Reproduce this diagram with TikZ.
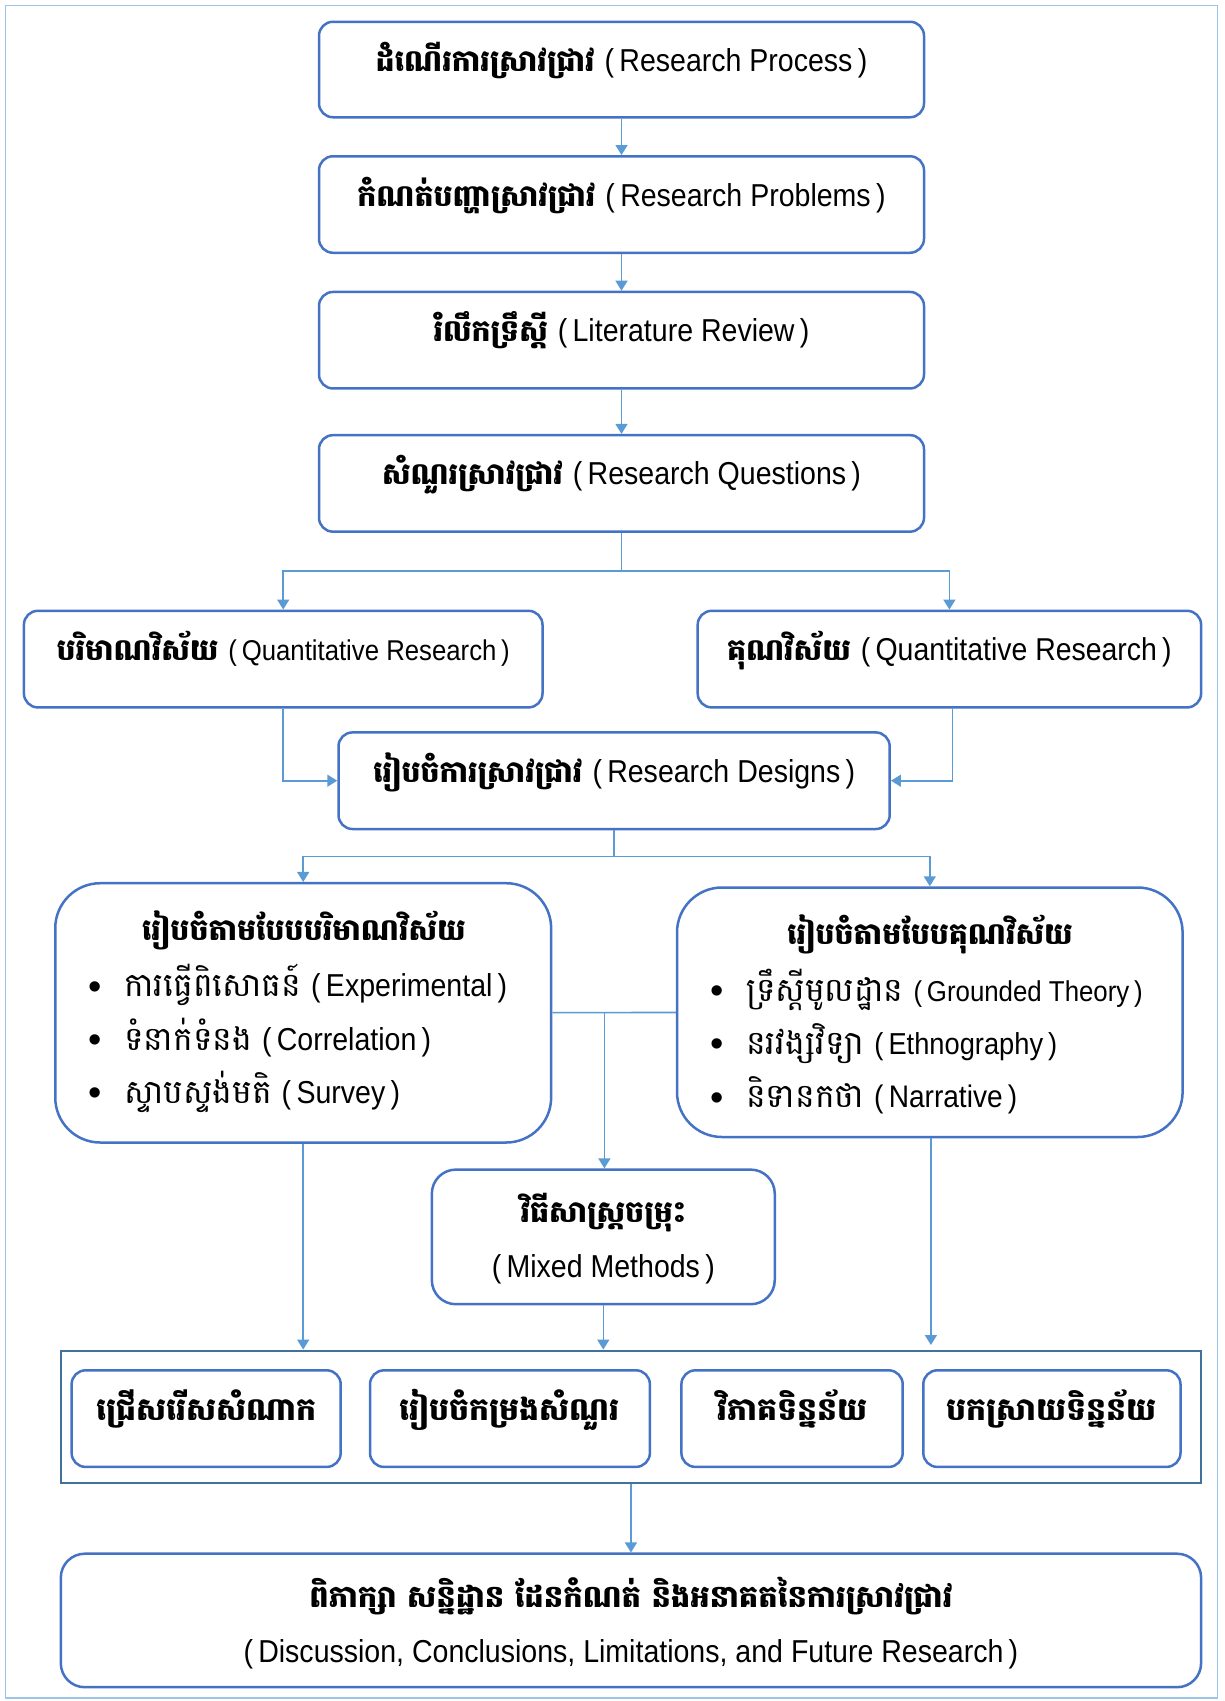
\documentclass[tikz,border=0pt]{standalone}
\usepackage{fontspec}
\setmainfont{Liberation Sans}
\newfontfamily\latc[FakeStretch=0.9]{Liberation Sans}
\newfontfamily\kh[Script=Khmer]{Battambang}
\usetikzlibrary{arrows.meta,calc}
\definecolor{boxblue}{HTML}{4472C4}
\definecolor{linkblue}{HTML}{5B9BD5}
\definecolor{frameblue}{HTML}{9DC3E6}
\definecolor{ctblue}{HTML}{41719C}
\newcommand{\khb}[2]{{\kh\bfseries\fontsize{#1}{#1}\selectfont #2}}
\newcommand{\khr}[2]{{\kh\fontsize{#1}{#1}\selectfont #2}}
\newcommand{\lat}[2]{{\latc\fontsize{#1}{#1}\selectfont(\,#2\,)}}
\newcommand{\bul}{\makebox[36pt][l]{\raisebox{-2.5pt}{\fontsize{38}{38}\selectfont •}}}
\begin{document}
\begin{tikzpicture}[x=1pt,y=-1pt,
  box/.style={draw=boxblue, line width=2.5pt, rounded corners=14pt, fill=white, inner sep=0pt,
              text height=25pt, text depth=22pt},
  bigbox/.style={draw=boxblue, line width=2.5pt, rounded corners=45pt, fill=white, inner sep=0pt},
  midbox/.style={draw=boxblue, line width=2.5pt, rounded corners=24pt, fill=white, inner sep=0pt},
  container/.style={draw=ctblue, line width=2.5pt, inner sep=0pt},
  txt/.style={inner sep=0pt, font=\fontsize{28.5}{30}\selectfont},
  link/.style={draw=linkblue, line width=1.6pt},
  conn/.style={link, -{Triangle[width=12pt,length=10pt]}}
]
\useasboundingbox (0,0) rectangle (1225,1701);
\draw[frameblue, line width=1.5pt] (5.4,5.4) rectangle (1217.4,1698);

% top chain
\node[box, minimum width=605pt, minimum height=95.5pt] (b1) at (621.5,69.5)
  {\khb{30}{ដំណើរការស្រាវជ្រាវ}\hspace{10pt}\lat{31.7}{Research Process}};
\node[box, minimum width=605pt, minimum height=96.5pt] (b2) at (621.5,204.5)
  {\khb{30}{កំណត់បញ្ហាស្រាវជ្រាវ}\hspace{10pt}\lat{31.7}{Research Problems}};
\node[box, minimum width=605pt, minimum height=96.5pt] (b3) at (621.5,340.2)
  {\khb{30}{រំលឹកទ្រឹស្ដី}\hspace{10pt}\lat{31.7}{Literature Review}};
\node[box, minimum width=605pt, minimum height=96.5pt] (b4) at (621.5,483.4)
  {\khb{30}{សំណួរស្រាវជ្រាវ}\hspace{10pt}\lat{31.7}{Research Questions}};

\draw[conn] (b1) -- (b2);
\draw[conn] (b2) -- (b3);
\draw[conn] (b3) -- (b4);

% quantitative / qualitative
\node[box, minimum width=518.6pt, minimum height=96.6pt] (b5) at (283.2,659.1)
  {\khb{30}{បរិមាណវិស័យ}\hspace{10pt}\lat{28.6}{Quantitative Research}};
\node[box, minimum width=503.4pt, minimum height=96.6pt] (b6) at (949.4,659.1)
  {\khb{30}{គុណវិស័យ}\hspace{10pt}\lat{31.6}{Quantitative Research}};

\coordinate (j1) at (621.5,570.7);
\draw[link] (b4) -- (j1);
\draw[conn] (j1) -| (b5);
\draw[conn] (j1) -| (b6);

% research designs
\node[box, minimum width=551.2pt, minimum height=96.6pt] (b7) at (614.1,780.7)
  {\khb{30}{រៀបចំការស្រាវជ្រាវ}\hspace{10pt}\lat{31.7}{Research Designs}};
\draw[conn] (b5) |- (b7);
\draw[conn] (b6.south -| 952.6,0) |- (b7);

% design types
\node[bigbox, minimum width=495.9pt, minimum height=259.3pt] (b8) at (303.2,1012.85) {};
\node[bigbox, minimum width=505.6pt, minimum height=249.5pt] (b9) at (929.8,1012.25) {};

\coordinate (j2) at (614.1,856.5);
\draw[link] (b7) -- (j2);
\draw[conn] (j2) -| (b8);
\draw[conn] (j2) -| (b9);

\node[txt, anchor=mid] (b8t) at (303.8,938) {\khb{30}{រៀបចំតាមបែបបរិមាណវិស័យ}};
\node[txt, anchor=mid west] (b8a) at (88,994.3) {\bul\khr{33}{ការធ្វើពិសោធន៍}\hspace{10pt}\lat{31.7}{Experimental}};
\node[txt, anchor=mid west] (b8b) at (88,1047.4) {\bul\khr{33}{ទំនាក់ទំនង}\hspace{10pt}\lat{31.7}{Correlation}};
\node[txt, anchor=mid west] (b8c) at (88,1100.6) {\bul\khr{33}{ស្ទាបស្ទង់មតិ}\hspace{10pt}\lat{31.7}{Survey}};

\node[txt, anchor=mid] (b9t) at (929.9,942.2) {\khb{30}{រៀបចំតាមបែបគុណវិស័យ}};
\node[txt, anchor=mid west] (b9a) at (710,998.6) {\bul\khr{33}{ទ្រឹស្ដីមូលដ្ឋាន}\hspace{10pt}\lat{28.7}{Grounded Theory}};
\node[txt, anchor=mid west] (b9b) at (710,1051.8) {\bul\khr{33}{នរវង្សវិទ្យា}\hspace{10pt}\lat{30.3}{Ethnography}};
\node[txt, anchor=mid west] (b9c) at (710,1105) {\bul\khr{33}{និទានកថា}\hspace{10pt}\lat{31.2}{Narrative}};

% mixed methods
\node[midbox, minimum width=342.9pt, minimum height=134.6pt] (b10) at (603.3,1236.9) {};
\node[txt, anchor=mid] (b10a) at (603.3,1220) {\khb{30}{វិធីសាស្ត្រចម្រុះ}};
\node[txt, anchor=mid] (b10b) at (603.3,1275.3) {\lat{31.7}{Mixed Methods}};

\coordinate (j3) at (604.4,1012.5);
\draw[link] (b8) -- (b9);
\draw[conn] (j3) -- (j3 |- b10.north);

% container with four steps
\node[container, minimum width=1140.3pt, minimum height=132.4pt] (ct) at (630.95,1417) {};
\node[box, minimum width=269.1pt, minimum height=96.6pt] (s1) at (206.15,1418.6) {\khb{31.5}{ជ្រើសរើសសំណាក}};
\node[box, minimum width=279.9pt, minimum height=96.6pt] (s2) at (509.95,1418.6) {\khb{31.5}{រៀបចំកម្រងសំណួរ}};
\node[box, minimum width=221.3pt, minimum height=96.6pt] (s3) at (792.05,1418.6) {\khb{31.5}{វិភាគទិន្នន័យ}};
\node[box, minimum width=257.2pt, minimum height=96.6pt] (s4) at (1051.9,1418.6) {\khb{31.5}{បកស្រាយទិន្នន័យ}};

\draw[conn] (b8) -- (b8 |- ct.north);
\draw[conn] (b10) -- (b10 |- ct.north);
\draw[conn] (b9.south -| 930.9,0) -- (930.9,1345);

% final
\node[midbox, minimum width=1140.3pt, minimum height=133.5pt] (fin) at (630.95,1620.45) {};
\node[txt, anchor=mid] (fina) at (630.95,1605) {\khb{30.6}{ពិភាក្សា សន្និដ្ឋាន ដែនកំណត់ និងអនាគតនៃការស្រាវជ្រាវ}};
\node[txt, anchor=mid] (finb) at (630.95,1659.4) {\lat{31.7}{Discussion, Conclusions, Limitations, and Future Research}};
\draw[conn] (ct) -- (fin);
\end{tikzpicture}
\end{document}
